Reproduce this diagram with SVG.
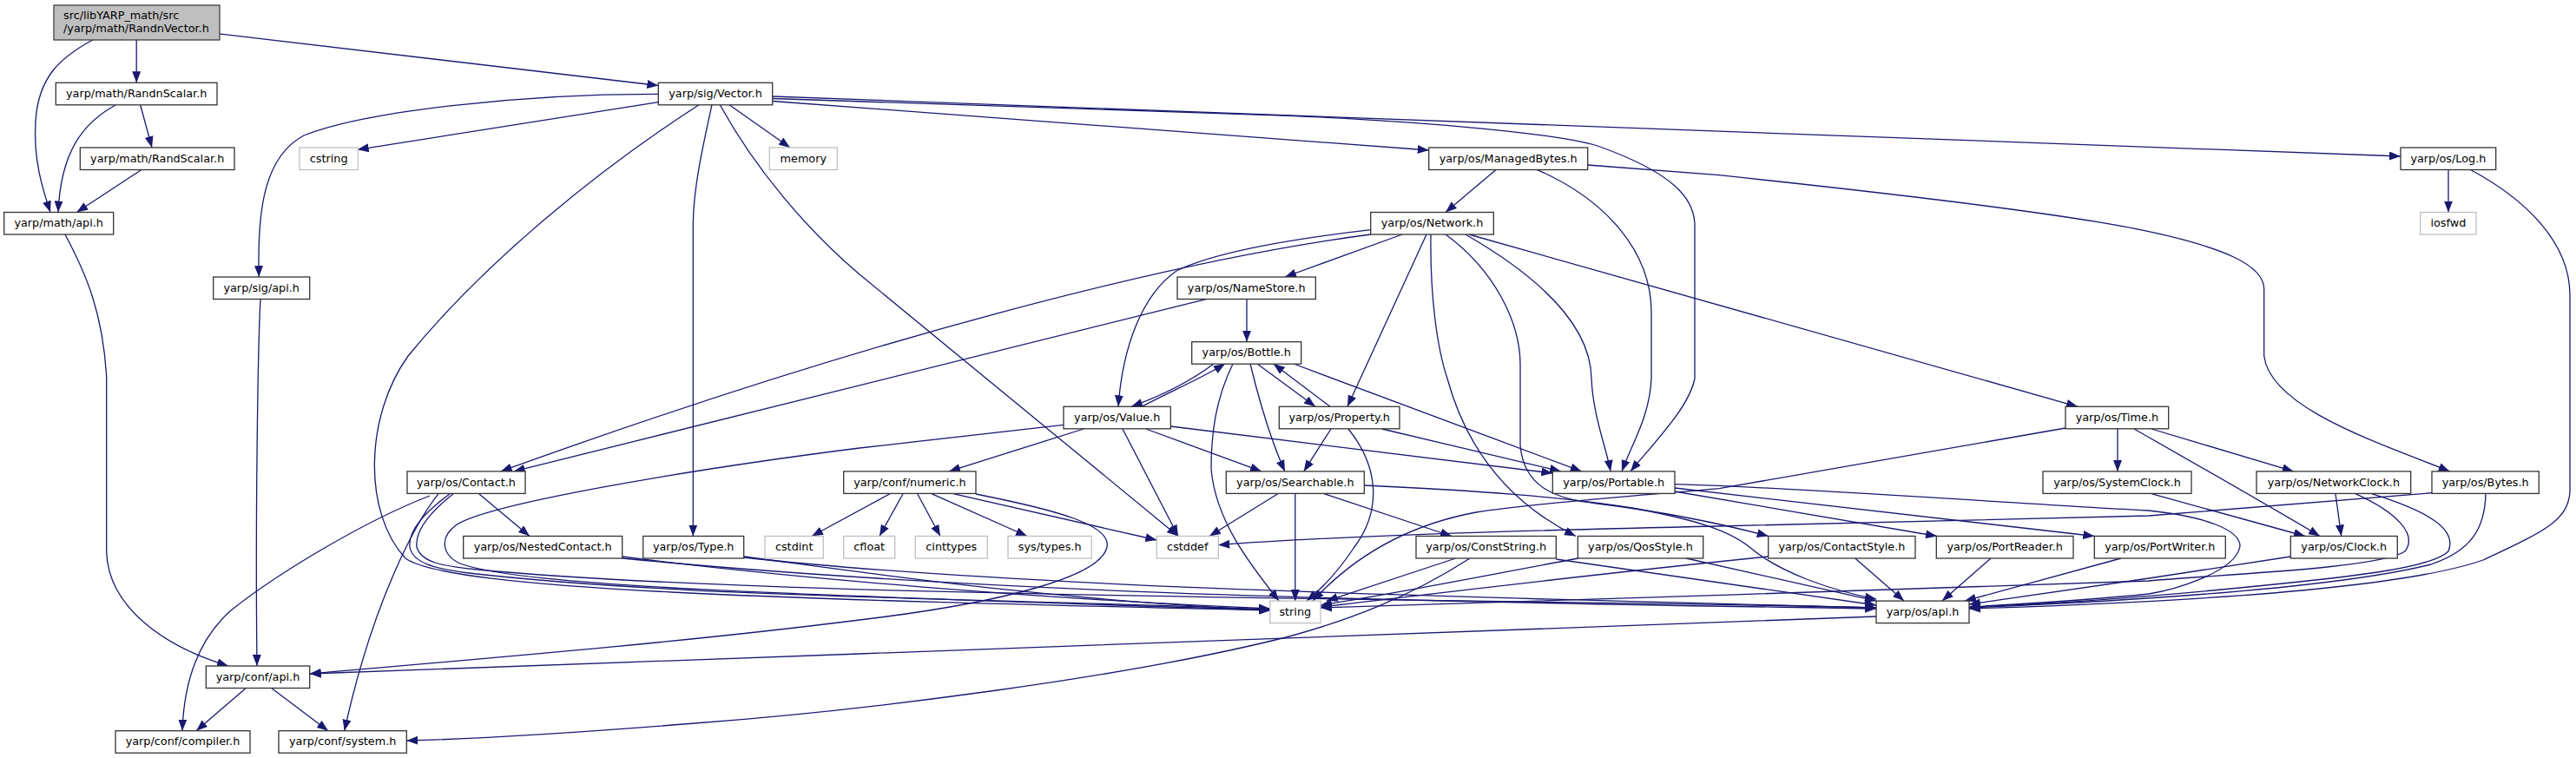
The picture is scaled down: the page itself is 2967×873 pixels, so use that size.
<svg xmlns="http://www.w3.org/2000/svg" width="2967" height="873" viewBox="0 0 2967 873">
<style>
.n rect{fill:#fff;stroke:#333;stroke-width:1.3}
.g rect{fill:#fff;stroke:#bfbfbf;stroke-width:1.3}
.r rect{fill:#bfbfbf;stroke:#404040;stroke-width:1.3}
text{font-family:"DejaVu Sans","Liberation Sans",sans-serif;font-size:12.8px;fill:#000;text-anchor:middle}
.e path{fill:none;stroke:#191970;stroke-width:1.3;marker-end:url(#ah)}
</style>
<defs>
<marker id="ah" viewBox="0 0 13 10" markerWidth="13" markerHeight="10" refX="13" refY="5" orient="auto" markerUnits="userSpaceOnUse"><path d="M0,0 L13,5 L0,10 Z" fill="#191970" stroke="none"/></marker>
</defs>
<rect width="2967" height="873" fill="#fff"/>
<g class="e" id="edges">
<path d="M106.7,46 C70,66 44,88 41,140 C38,185 50,220 58,244.5"/>
<path d="M157.2,46 L157.2,95.3"/>
<path d="M253,39 L758.3,98.5"/>
<path d="M133,121 C95,142 70,175 67,244.5"/>
<path d="M161.7,121 L175,170"/>
<path d="M163.3,195.3 L88.3,244.5"/>
<path d="M75,270 C100,317 118,360 122.7,433 L122.7,636 C125,700 190,745 263,767"/>
<path d="M300,344.3 C297,400 294,600 296,767"/>
<path d="M758.3,108.3 C600,108 420,128 350,156 C305,180 296,240 298.3,319"/>
<path d="M758.3,117.7 L411.7,172.3"/>
<path d="M840,120.7 L910,170"/>
<path d="M820,120.7 C808,175 798.3,220 798.3,260 L798.3,617.5"/>
<path d="M829.3,120.7 C870,195 930,265 990,316 L1357,617.5"/>
<path d="M805,120.7 C690,195 560,300 470,410 C420,480 418,590 467,643 C520,680 900,690 1463,703"/>
<path d="M889.7,116.5 L1645.7,173"/>
<path d="M889.7,111 L2765,180"/>
<path d="M889.7,113.5 L1485,133.3 C1650,140 1800,155 1840,168 C1930,200 1952,230 1952,260 L1952,436 C1945,470 1905,510 1878,542.9"/>
<path d="M1723.3,195.3 L1665,244.5"/>
<path d="M1770,195.3 C1850,230 1902,290 1902,360 L1902,436 C1900,480 1880,510 1868,542.9"/>
<path d="M1828.7,190 L1980,201.7 C2200,225 2400,250 2475,266.7 C2560,285 2607.7,305 2607.7,333 L2607.7,410 C2615,470 2740,510 2821.7,542.9"/>
<path d="M2820,195.3 L2820,244.5"/>
<path d="M2845,195.3 C2910,230 2960,280 2960,340 L2960,566 C2958,600 2930,612 2860,645 C2760,680 2500,694 2268,701"/>
<path d="M1615,270 L1480,319"/>
<path d="M1643,270 L1552,468.3"/>
<path d="M1578.7,264.7 C1490,275 1400,290 1355,312 C1315,340 1293,400 1288,468.3"/>
<path d="M1578.7,270 C1350,300 1000,390 576.7,542.9"/>
<path d="M1390,344.3 L591.7,542.9"/>
<path d="M1436,344.3 L1436,393.7"/>
<path d="M1688,270 C1740,300 1832,360 1833,436 C1835,480 1850,515 1855,542.9"/>
<path d="M1692,270 L2393,468.3"/>
<path d="M1648,270 C1647,340 1655,400 1667,436 C1690,520 1740,580 1815,617.5"/>
<path d="M1665,270 C1720,310 1751,370 1751,420 L1751,513 C1755,560 1790,575 1840,580 C1920,590 1990,605 2036.7,617.5"/>
<path d="M1571.3,559 C1700,565 1800,572 1880,585 C1950,598 1990,610 2015,630 C2050,660 2110,680 2161,690"/>
<path d="M1398,419 C1370,440 1340,455 1303,468.3"/>
<path d="M1315,468.3 C1350,450 1385,435 1411,419"/>
<path d="M1448,419 L1515,468.3"/>
<path d="M1532,468.3 L1466.7,419"/>
<path d="M1440,419 C1450,460 1465,510 1480,542.9"/>
<path d="M1490,419 L1821.7,542.9"/>
<path d="M1420,419 C1400,460 1395,500 1395,540 C1400,600 1440,650 1473,692.1"/>
<path d="M1533,494 L1501.7,542.9"/>
<path d="M1591.7,494 L1798,542.9"/>
<path d="M1553,494 C1590,540 1590,590 1560,630 C1540,660 1520,680 1505,692.1"/>
<path d="M1248,494 L1093,542.9"/>
<path d="M1293,494 L1357,617.5"/>
<path d="M1320,494 L1453,542.9"/>
<path d="M1348.3,491 L1788.3,545"/>
<path d="M1225,489.3 L990,516 C800,540 560,580 525,605 C505,620 510,640 530,649 C600,675 900,685 1463,702.7"/>
<path d="M1491.8,568.7 L1491.8,692.1"/>
<path d="M1525,568.7 L1672,617.5"/>
<path d="M1471.7,568.7 L1393,617.5"/>
<path d="M1025,568.7 L935,617.5"/>
<path d="M1040,568.7 L1013,617.5"/>
<path d="M1056.7,568.7 L1083,617.5"/>
<path d="M1073,568.7 L1183,617.5"/>
<path d="M1098,568.7 L1332.3,622"/>
<path d="M1124,569 C1220,588 1280,605 1275,630 C1268,665 1150,695 990,714 C800,738 600,755 356.7,776"/>
<path d="M551.7,568.7 L610,617.5"/>
<path d="M495,571 C420,600 320,660 266,703 C230,735 212,780 210,841.7"/>
<path d="M505,568.7 C480,600 430,690 396.7,841.7"/>
<path d="M518,568.7 C490,590 470,610 472,630 C475,648 500,655 540,660 C800,690 1200,690 1463,702"/>
<path d="M522,568.7 C495,590 478,612 480,630 C485,648 510,652 550,656 C900,690 1800,690 2161,700"/>
<path d="M716.7,641 C900,665 1200,690 1463,701"/>
<path d="M716.7,643 C1200,690 1800,695 2161,701"/>
<path d="M856.7,641 C1000,660 1200,690 1463,703"/>
<path d="M856.7,642 C1200,680 1800,690 2161,700"/>
<path d="M2161,710 C1800,722 1400,738 990,753 C700,765 500,772 356.7,776"/>
<path d="M283,792.7 L226,841.7"/>
<path d="M313,792.7 L378,841.7"/>
<path d="M1676.7,643 L1528,692.1"/>
<path d="M1693,643 C1620,690 1550,715 1485,733 C1300,780 1000,818 800,833 C650,845 550,851 468.3,853"/>
<path d="M1792.3,644 L2161,697"/>
<path d="M1818,643 C1700,665 1600,685 1521,697"/>
<path d="M1942,643 L2161,692.1"/>
<path d="M2136.7,643 L2193,692.1"/>
<path d="M2036.7,641 C1800,665 1600,690 1521,699"/>
<path d="M2293,643 L2237,692.1"/>
<path d="M2443,643 L2263,692.1"/>
<path d="M1929,566 L2231,617.5"/>
<path d="M1929,562 L2412.3,617.5"/>
<path d="M1929,557.7 L1980,559.3 C2200,570 2400,585 2475,588 C2540,595 2580,610 2580,629 C2575,660 2500,680 2475,684 C2400,692 2300,697 2268,699"/>
<path d="M2690,568.7 L2696.7,617.5"/>
<path d="M2713,568.7 C2760,590 2785,615 2770,635 C2740,655 2550,662 2475,669 C2200,680 1800,690 1521,700"/>
<path d="M2731.7,568.7 C2800,590 2830,610 2820,635 C2800,655 2700,665 2600,675 C2450,690 2330,697 2268,699"/>
<path d="M2638.3,641 L2475,666 L2268,696"/>
<path d="M2478,568.7 L2655,617.5"/>
<path d="M2439,494 L2439,542.9"/>
<path d="M2478,494 L2641.7,542.9"/>
<path d="M2458,494 C2530,535 2600,575 2672,617.5"/>
<path d="M2379,493 L1980,562.7 C1900,570 1780,578 1700,590 C1620,605 1560,640 1512,692.1"/>
<path d="M2801,567.7 L2475,594 L1980,606 C1700,612 1500,620 1403.3,627.7"/>
<path d="M2863,568.7 C2862,610 2845,635 2800,650 C2700,675 2500,690 2268,700"/>
</g>
<g id="root" class="r"><rect x="62" y="6" width="191" height="40"/><text x="73" y="21.7" style="text-anchor:start">src/libYARP_math/src</text><text x="73" y="36.7" style="text-anchor:start">/yarp/math/RandnVector.h</text></g>
<g id="RandnScalar" class="n"><rect x="64.3" y="95.3" width="185.7" height="25.5"/><text x="157.2" y="112">yarp/math/RandnScalar.h</text></g>
<g id="RandScalar" class="n"><rect x="92.3" y="170" width="177.7" height="25.5"/><text x="181.2" y="186.7">yarp/math/RandScalar.h</text></g>
<g id="math_api" class="n"><rect x="4.7" y="244.5" width="126" height="25.5"/><text x="67.7" y="261.2">yarp/math/api.h</text></g>
<g id="cstring" class="g"><rect x="345" y="170" width="67.3" height="25.5"/><text x="378.7" y="186.7">cstring</text></g>
<g id="sig_api" class="n"><rect x="245.7" y="319" width="111" height="25.5"/><text x="301.2" y="335.7">yarp/sig/api.h</text></g>
<g id="Vector" class="n"><rect x="758.3" y="95.3" width="131.4" height="25.5"/><text x="824" y="112">yarp/sig/Vector.h</text></g>
<g id="memory" class="g"><rect x="886.3" y="170" width="78" height="25.5"/><text x="925.3" y="186.7">memory</text></g>
<g id="ManagedBytes" class="n"><rect x="1645.7" y="170" width="183" height="25.5"/><text x="1737.2" y="186.7">yarp/os/ManagedBytes.h</text></g>
<g id="Log" class="n"><rect x="2765" y="170" width="109.7" height="25.5"/><text x="2819.9" y="186.7">yarp/os/Log.h</text></g>
<g id="iosfwd" class="g"><rect x="2787.7" y="244.5" width="64.3" height="25.5"/><text x="2819.9" y="261.2">iosfwd</text></g>
<g id="Network" class="n"><rect x="1578.7" y="244.5" width="141.6" height="25.5"/><text x="1649.5" y="261.2">yarp/os/Network.h</text></g>
<g id="NameStore" class="n"><rect x="1356" y="319" width="159.3" height="25.5"/><text x="1435.7" y="335.7">yarp/os/NameStore.h</text></g>
<g id="Bottle" class="n"><rect x="1372.7" y="393.7" width="126" height="25.5"/><text x="1435.7" y="410.4">yarp/os/Bottle.h</text></g>
<g id="Value" class="n"><rect x="1225" y="468.3" width="123.3" height="25.5"/><text x="1286.7" y="485">yarp/os/Value.h</text></g>
<g id="Property" class="n"><rect x="1473.3" y="468.3" width="138.7" height="25.5"/><text x="1542.7" y="485">yarp/os/Property.h</text></g>
<g id="Time" class="n"><rect x="2379" y="468.3" width="118.7" height="25.5"/><text x="2438.4" y="485">yarp/os/Time.h</text></g>
<g id="Contact" class="n"><rect x="469" y="542.9" width="136" height="25.5"/><text x="537" y="559.6">yarp/os/Contact.h</text></g>
<g id="numeric" class="n"><rect x="971.7" y="542.9" width="152.3" height="25.5"/><text x="1047.9" y="559.6">yarp/conf/numeric.h</text></g>
<g id="Searchable" class="n"><rect x="1412.3" y="542.9" width="159" height="25.5"/><text x="1491.8" y="559.6">yarp/os/Searchable.h</text></g>
<g id="Portable" class="n"><rect x="1788.3" y="542.9" width="140.7" height="25.5"/><text x="1858.7" y="559.6">yarp/os/Portable.h</text></g>
<g id="SystemClock" class="n"><rect x="2353" y="542.9" width="171" height="25.5"/><text x="2438.5" y="559.6">yarp/os/SystemClock.h</text></g>
<g id="NetworkClock" class="n"><rect x="2599" y="542.9" width="177.7" height="25.5"/><text x="2687.9" y="559.6">yarp/os/NetworkClock.h</text></g>
<g id="Bytes" class="n"><rect x="2801" y="542.9" width="123.3" height="25.5"/><text x="2862.7" y="559.6">yarp/os/Bytes.h</text></g>
<g id="NestedContact" class="n"><rect x="533.7" y="617.5" width="183" height="25.5"/><text x="625.2" y="634.2">yarp/os/NestedContact.h</text></g>
<g id="Type" class="n"><rect x="740.7" y="617.5" width="116" height="25.5"/><text x="798.7" y="634.2">yarp/os/Type.h</text></g>
<g id="cstdint" class="g"><rect x="881" y="617.5" width="67.3" height="25.5"/><text x="914.7" y="634.2">cstdint</text></g>
<g id="cfloat" class="g"><rect x="971.7" y="617.5" width="59" height="25.5"/><text x="1001.2" y="634.2">cfloat</text></g>
<g id="cinttypes" class="g"><rect x="1054.3" y="617.5" width="83" height="25.5"/><text x="1095.8" y="634.2">cinttypes</text></g>
<g id="systypes" class="g"><rect x="1161" y="617.5" width="96.3" height="25.5"/><text x="1209.2" y="634.2">sys/types.h</text></g>
<g id="cstddef" class="g"><rect x="1332.3" y="617.5" width="71" height="25.5"/><text x="1367.8" y="634.2">cstddef</text></g>
<g id="ConstString" class="n"><rect x="1631" y="617.5" width="161.3" height="25.5"/><text x="1711.7" y="634.2">yarp/os/ConstString.h</text></g>
<g id="QosStyle" class="n"><rect x="1817.3" y="617.5" width="144.4" height="25.5"/><text x="1889.5" y="634.2">yarp/os/QosStyle.h</text></g>
<g id="ContactStyle" class="n"><rect x="2036.7" y="617.5" width="169.3" height="25.5"/><text x="2121.4" y="634.2">yarp/os/ContactStyle.h</text></g>
<g id="PortReader" class="n"><rect x="2230.3" y="617.5" width="157.7" height="25.5"/><text x="2309.2" y="634.2">yarp/os/PortReader.h</text></g>
<g id="PortWriter" class="n"><rect x="2412.3" y="617.5" width="151" height="25.5"/><text x="2487.8" y="634.2">yarp/os/PortWriter.h</text></g>
<g id="Clock" class="n"><rect x="2638.3" y="617.5" width="123" height="25.5"/><text x="2699.8" y="634.2">yarp/os/Clock.h</text></g>
<g id="string" class="g"><rect x="1462.7" y="692.1" width="58.3" height="25.5"/><text x="1491.8" y="708.8">string</text></g>
<g id="os_api" class="n"><rect x="2161" y="692.1" width="107" height="25.5"/><text x="2214.5" y="708.8">yarp/os/api.h</text></g>
<g id="conf_api" class="n"><rect x="237.3" y="767" width="119.4" height="25.5"/><text x="297" y="783.7">yarp/conf/api.h</text></g>
<g id="compiler" class="n"><rect x="133" y="841.7" width="155" height="25.5"/><text x="210.5" y="858.4">yarp/conf/compiler.h</text></g>
<g id="system" class="n"><rect x="321" y="841.7" width="147.3" height="25.5"/><text x="394.7" y="858.4">yarp/conf/system.h</text></g>
</svg>
